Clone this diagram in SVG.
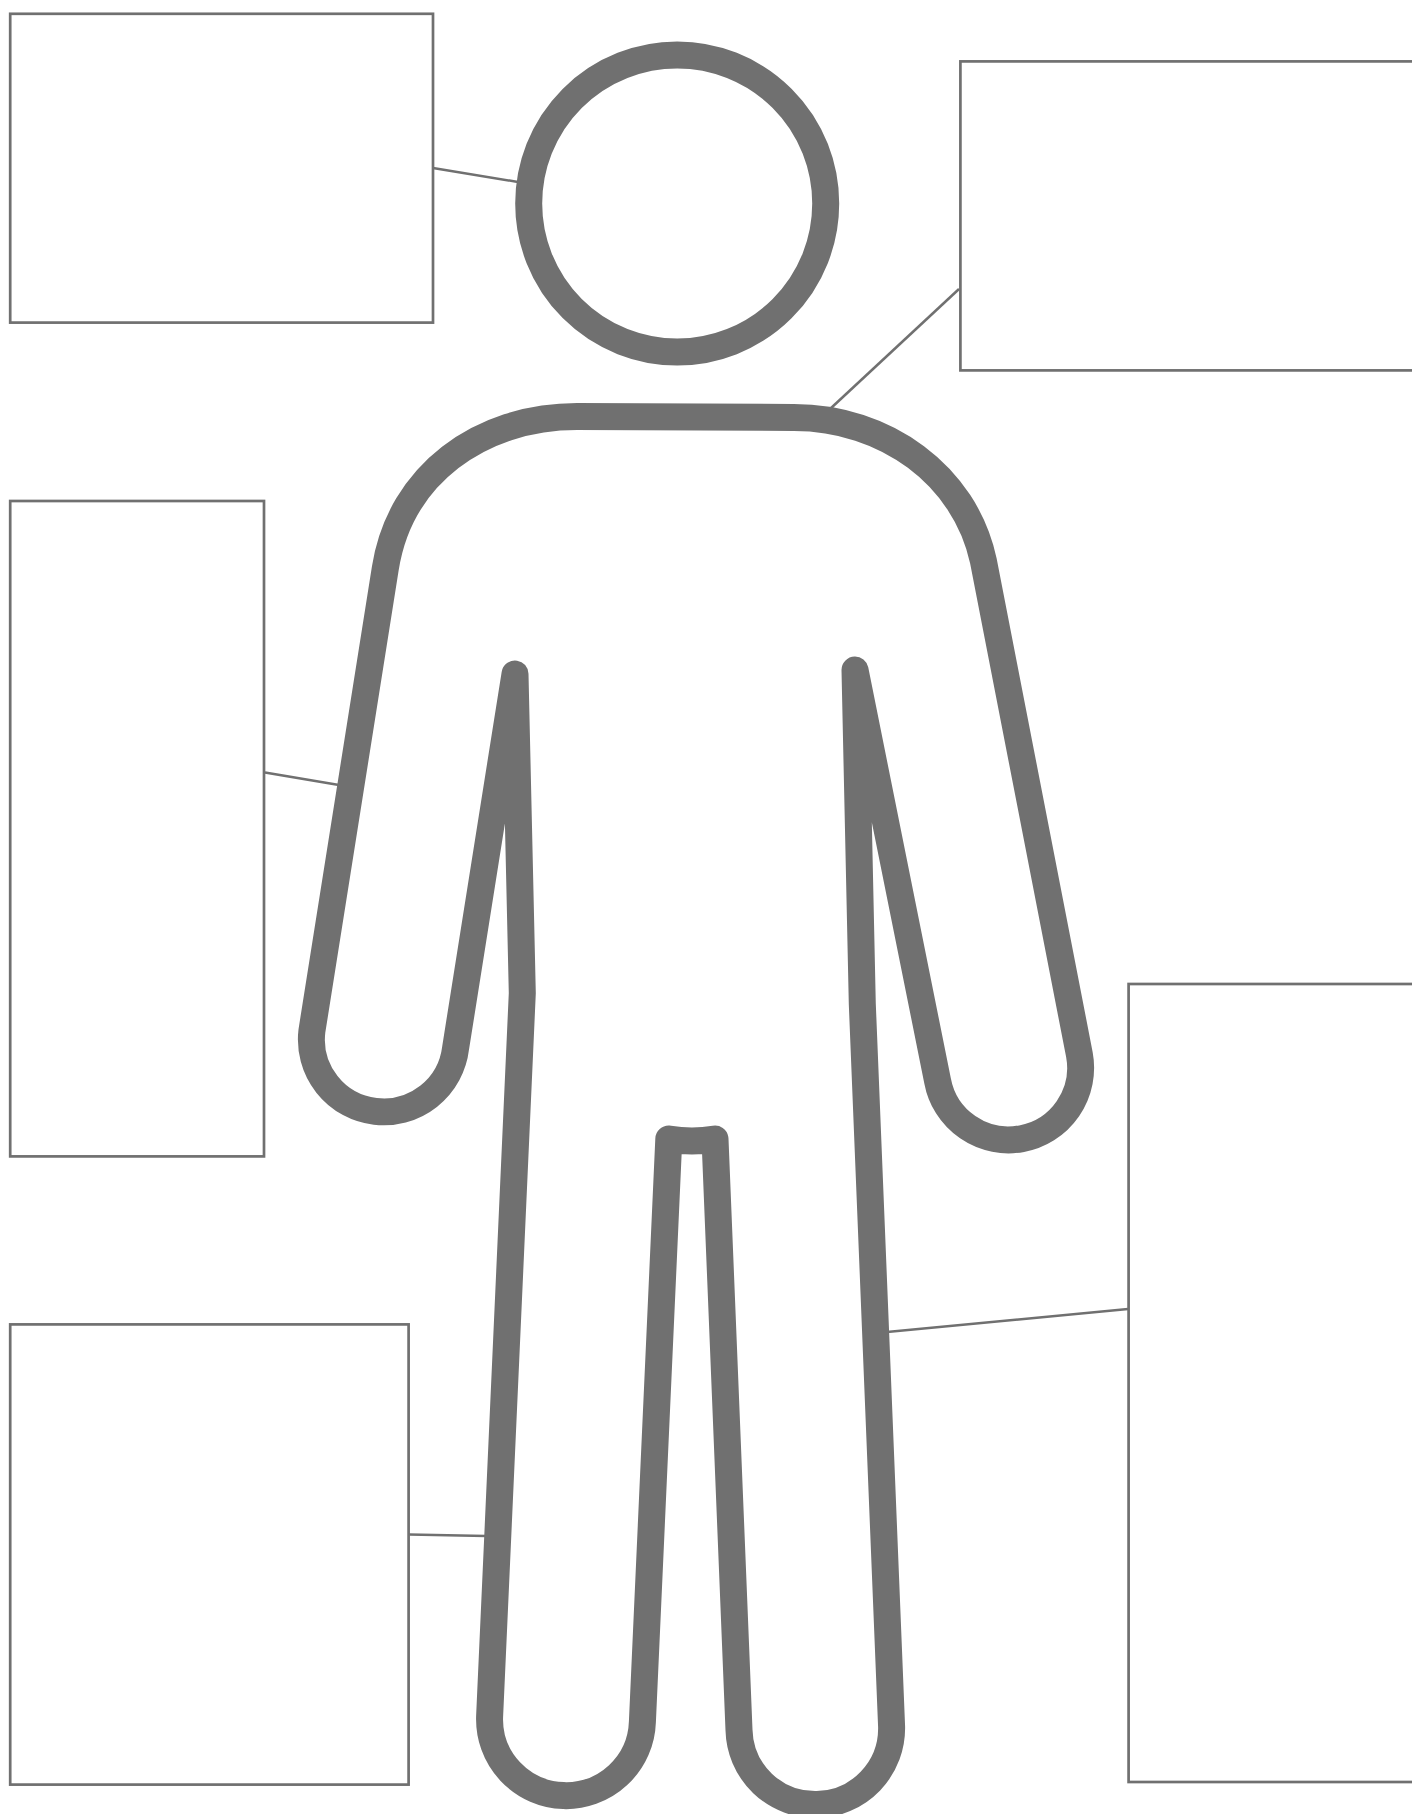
<svg xmlns="http://www.w3.org/2000/svg" width="1412" height="1814" viewBox="0 0 1412 1814">
<style>
.box{fill:#fff;stroke:#707070;stroke-width:2.7}
.line{fill:none;stroke:#707070;stroke-width:2.5}
.fig{fill:#fff;stroke:#707070;stroke-width:27;stroke-linejoin:round}
</style>
<rect width="1412" height="1814" fill="#fff"/>
<g id="connectors">
<line class="line" x1="433" y1="168" x2="518" y2="182"/>
<line class="line" x1="959" y1="289" x2="830" y2="409"/>
<line class="line" x1="265" y1="772.5" x2="339" y2="785"/>
<line class="line" x1="409" y1="1534.5" x2="486" y2="1536"/>
<line class="line" x1="1128" y1="1309" x2="887" y2="1332"/>
</g>
<g id="box-head"><rect class="box" x="10.2" y="13.8" width="422.8" height="308.8"/></g>
<g id="box-shoulder"><rect class="box" x="960.4" y="61.4" width="470" height="309"/></g>
<g id="box-arm"><rect class="box" x="10.2" y="501" width="253.8" height="655.4"/></g>
<g id="box-leg-left"><rect class="box" x="10.2" y="1324.4" width="398.4" height="460.2"/></g>
<g id="box-leg-right"><rect class="box" x="1128.6" y="984" width="300" height="798"/></g>
<g id="head"><circle class="fig" cx="677.2" cy="203.5" r="148.5"/></g>
<g id="body"><path class="fig" d="M515 674 L522.3 993 L489.6 1716.7 A76 76 0 0 0 642.4 1721.7 L668.8 1139 Q692 1143 715 1139 L739 1730 A76 76 0 0 0 891.6 1726.7 L862.3 1004 L855 670 L937.6 1081 A72 72 0 0 0 1079.4 1054.6 L983.4 561 C965 475 885 417.5 794 417.5 L577 416.5 C480 416.5 400 475 385.3 568.4 L311.9 1031 A72 72 0 0 0 455.6 1048 Z"/></g>
</svg>
